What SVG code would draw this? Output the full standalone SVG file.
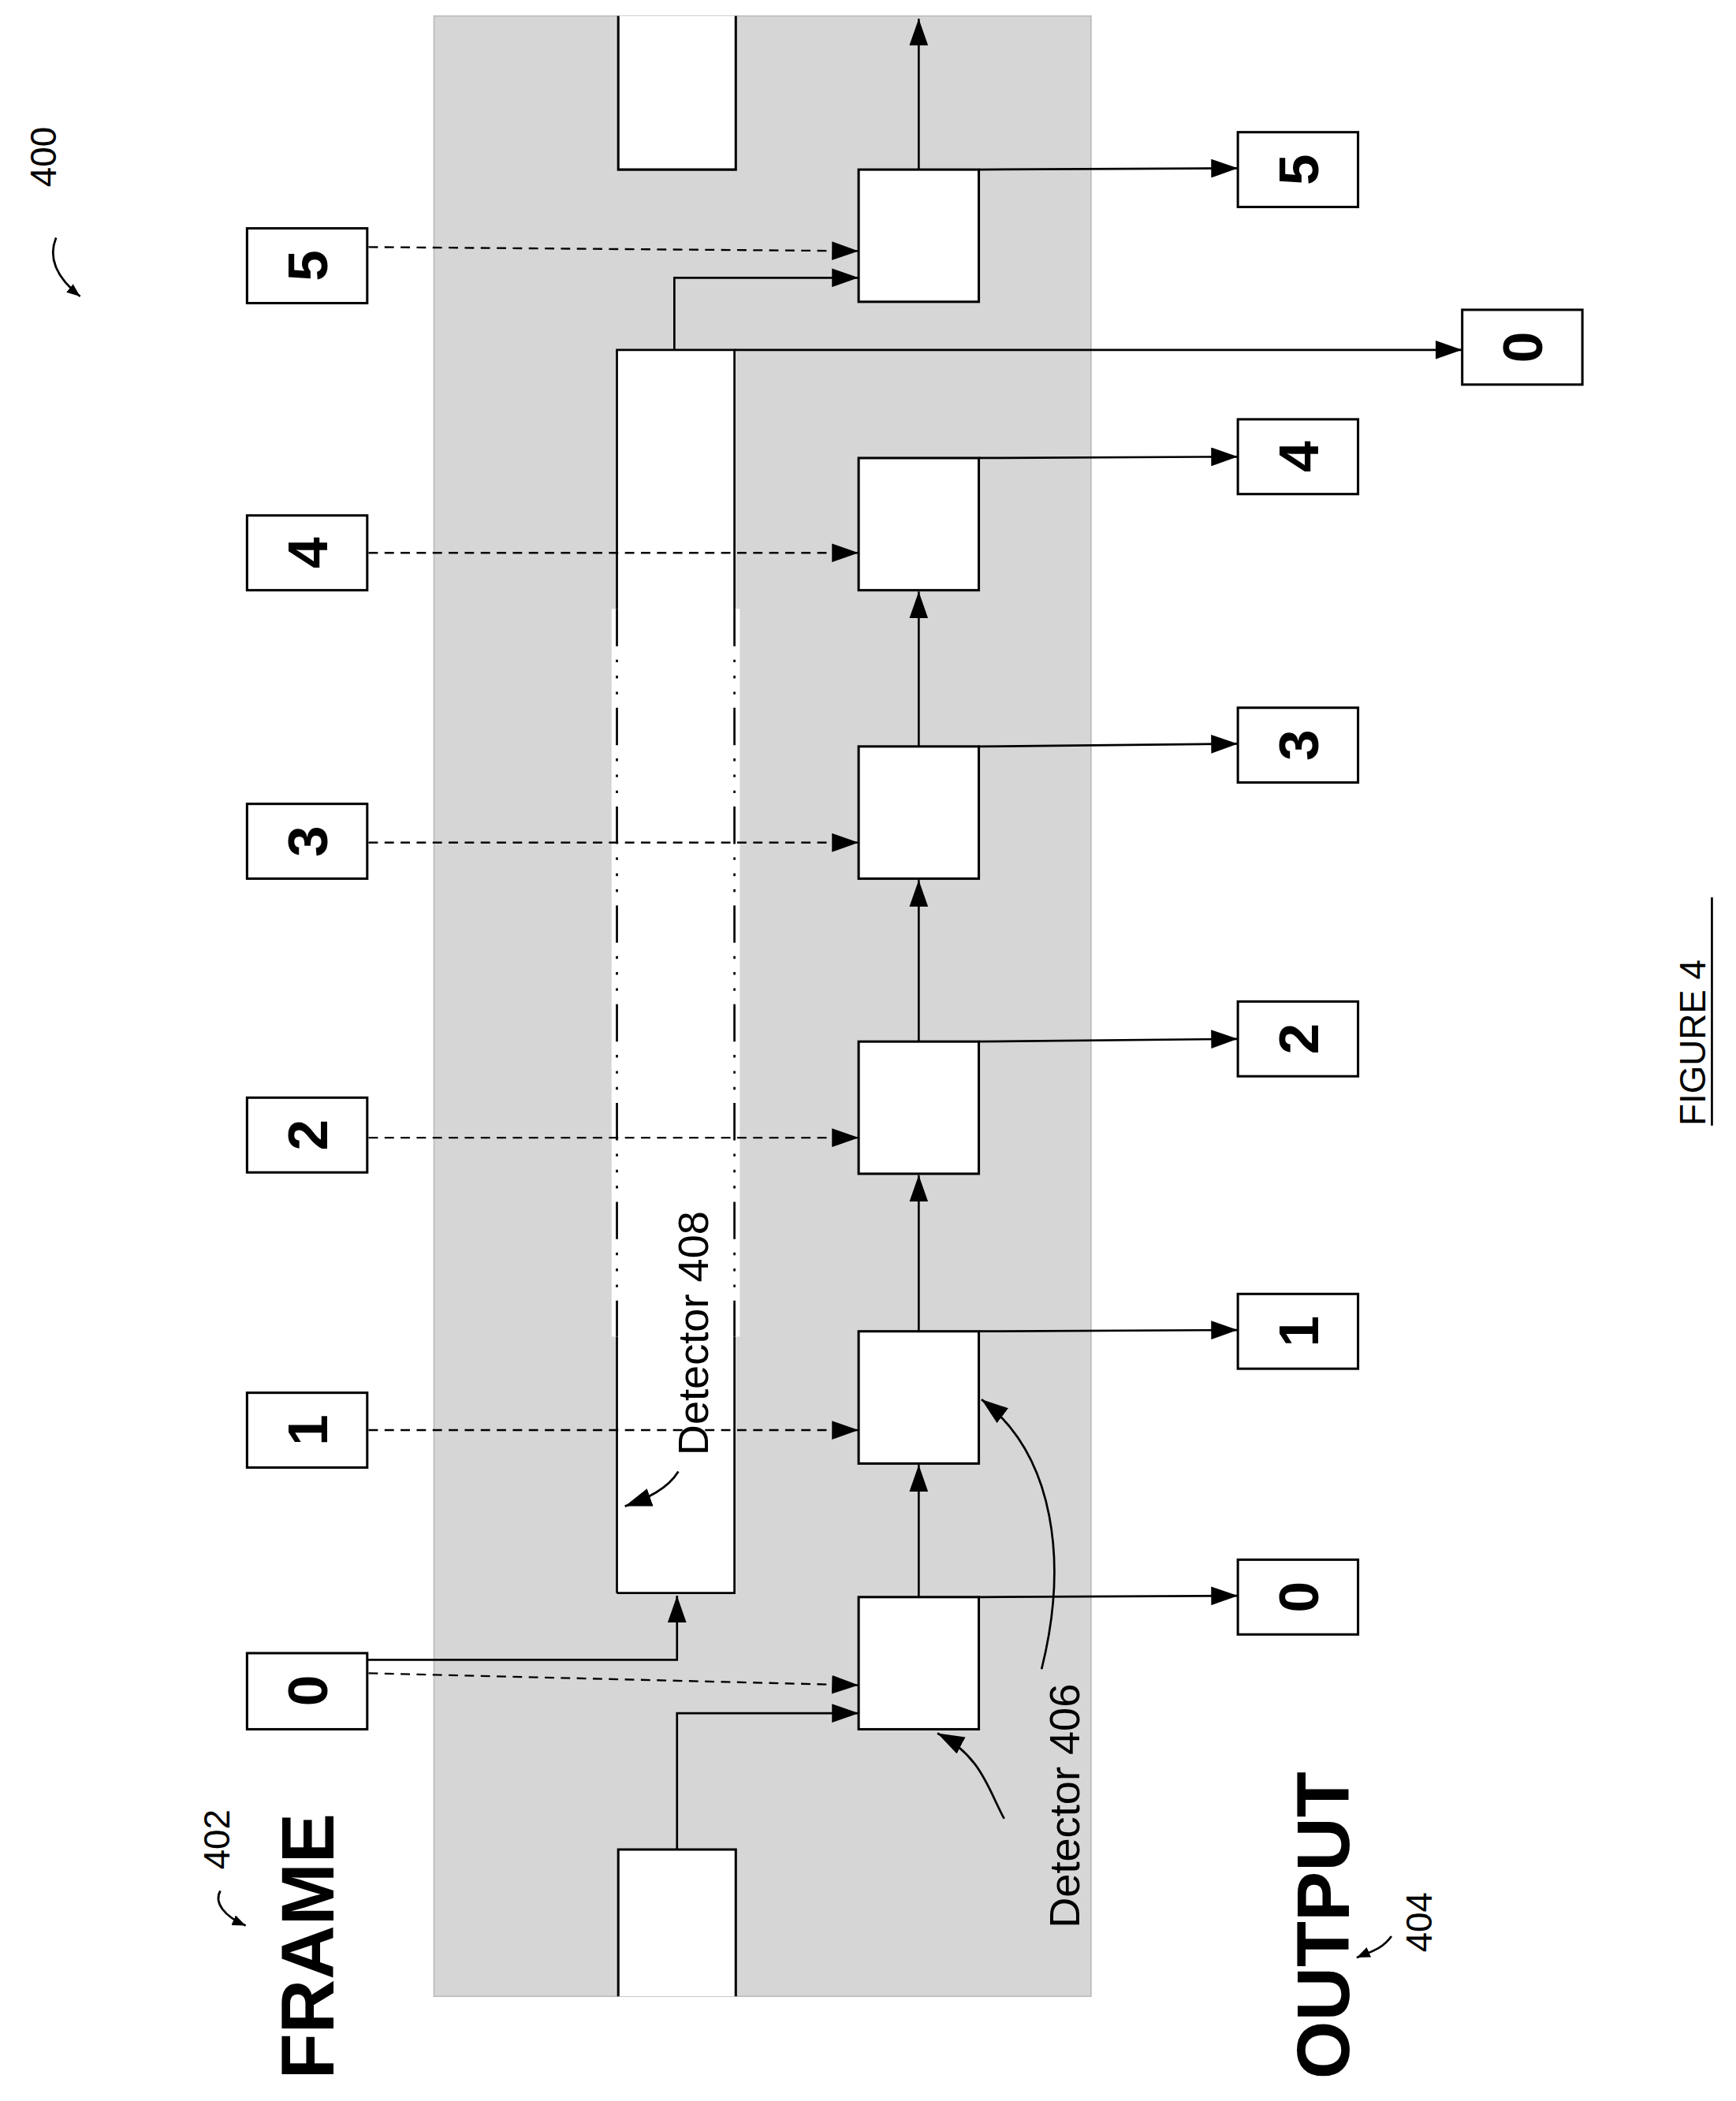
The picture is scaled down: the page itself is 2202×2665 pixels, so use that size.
<svg xmlns="http://www.w3.org/2000/svg" width="2202" height="2665" viewBox="0 0 2202 2665">
<style>
.ln{stroke:#000;stroke-width:1.6;fill:none}
.ds{stroke:#000;stroke-width:1.4;fill:none;stroke-dasharray:7 5}
.bx{fill:#fff;stroke:#000;stroke-width:1.8}
.dg{font-family:"Liberation Sans",Arial,sans-serif;font-weight:bold;font-size:42px}
.lb{font-family:"Liberation Sans",Arial,sans-serif;font-size:27px}
.dl{font-family:"Liberation Sans",Arial,sans-serif;font-size:32px}
.big{font-family:"Liberation Sans",Arial,sans-serif;font-weight:bold;font-size:56px}
</style>
<defs>
<marker id="a" markerWidth="10" markerHeight="8" refX="10" refY="4" orient="auto" markerUnits="userSpaceOnUse"><path d="M0,0 L10,4 L0,8 z" fill="#000"/></marker>
<marker id="b" markerWidth="20" markerHeight="14" refX="20" refY="7" orient="auto" markerUnits="userSpaceOnUse"><path d="M0,0 L20,7 L0,14 z" fill="#000"/></marker>
</defs>
<rect width="2202" height="2665" fill="#fff"/>
<g transform="scale(1.6938)">
<g id="background"><rect x="325" y="12" width="492" height="1483" fill="#d6d6d6" stroke="#bbb" stroke-width="1"/></g>
<g id="prev-block"><path d="M463,12 V127 H551 V12" class="bx"/></g>
<g id="next-block"><path d="M463,1495 V1385 H551 V1495" class="bx"/></g>
<g id="detector408">
<rect x="462" y="262" width="88" height="931" fill="#fff"/>
<path d="M462,1193 V262 H550 V1193 H462" class="ln"/>
<rect x="458" y="456" width="8" height="545" fill="#fff"/>
<rect x="546" y="456" width="8" height="545" fill="#fff"/>
<path d="M462,456 V1001 M550,456 V1001" class="ln" stroke-dasharray="28 10 2 10 2 10 2 10"/>
<text class="dl" transform="rotate(-90 530 1090)" x="530" y="1090">Detector 408</text>
</g>
<g id="detector406">
<rect class="bx" x="643" y="1196" width="90" height="99"/>
<rect class="bx" x="643" y="997" width="90" height="99"/>
<rect class="bx" x="643" y="780" width="90" height="99"/>
<rect class="bx" x="643" y="559" width="90" height="99"/>
<rect class="bx" x="643" y="343" width="90" height="99"/>
<rect class="bx" x="643" y="127" width="90" height="99"/>
<text class="dl" transform="rotate(-90 808 1444)" x="808" y="1444">Detector 406</text>
</g>
<g id="frames">
<rect class="bx" x="185" y="1238" width="90" height="57"/><text class="dg" transform="rotate(-90 245 1266)" x="245" y="1266" text-anchor="middle">0</text>
<rect class="bx" x="185" y="1043" width="90" height="56"/><text class="dg" transform="rotate(-90 245 1071)" x="245" y="1071" text-anchor="middle">1</text>
<rect class="bx" x="185" y="822" width="90" height="56"/><text class="dg" transform="rotate(-90 245 850)" x="245" y="850" text-anchor="middle">2</text>
<rect class="bx" x="185" y="602" width="90" height="56"/><text class="dg" transform="rotate(-90 245 630)" x="245" y="630" text-anchor="middle">3</text>
<rect class="bx" x="185" y="386" width="90" height="56"/><text class="dg" transform="rotate(-90 245 414)" x="245" y="414" text-anchor="middle">4</text>
<rect class="bx" x="185" y="171" width="90" height="56"/><text class="dg" transform="rotate(-90 245 199)" x="245" y="199" text-anchor="middle">5</text>
</g>
<g id="outputs">
<rect class="bx" x="927" y="1168" width="90" height="56"/><text class="dg" transform="rotate(-90 987 1196)" x="987" y="1196" text-anchor="middle">0</text>
<rect class="bx" x="927" y="969" width="90" height="56"/><text class="dg" transform="rotate(-90 987 997)" x="987" y="997" text-anchor="middle">1</text>
<rect class="bx" x="927" y="750" width="90" height="56"/><text class="dg" transform="rotate(-90 987 778)" x="987" y="778" text-anchor="middle">2</text>
<rect class="bx" x="927" y="530" width="90" height="56"/><text class="dg" transform="rotate(-90 987 558)" x="987" y="558" text-anchor="middle">3</text>
<rect class="bx" x="927" y="314" width="90" height="56"/><text class="dg" transform="rotate(-90 987 342)" x="987" y="342" text-anchor="middle">4</text>
<rect class="bx" x="927" y="99" width="90" height="56"/><text class="dg" transform="rotate(-90 987 127)" x="987" y="127" text-anchor="middle">5</text>
<rect class="bx" x="1095" y="232" width="90" height="56"/><text class="dg" transform="rotate(-90 1155 260)" x="1155" y="260" text-anchor="middle">0</text>
</g>
<g id="connectors">
<path class="ln" marker-end="url(#b)" d="M688,1196 V1097"/>
<path class="ln" marker-end="url(#b)" d="M688,997 V880"/>
<path class="ln" marker-end="url(#b)" d="M688,780 V659"/>
<path class="ln" marker-end="url(#b)" d="M688,559 V443"/>
<path class="ln" marker-end="url(#b)" d="M688,127 V14"/>
<path class="ln" marker-end="url(#b)" d="M507,1385 V1283 H643"/>
<path class="ln" marker-end="url(#b)" d="M275,1243 H507 V1195"/>
<path class="ds" marker-end="url(#b)" d="M276,1253 L643,1262"/>
<path class="ds" marker-end="url(#b)" d="M276,1071 H643"/>
<path class="ds" marker-end="url(#b)" d="M276,852 H643"/>
<path class="ds" marker-end="url(#b)" d="M276,631 H643"/>
<path class="ds" marker-end="url(#b)" d="M276,414 H643"/>
<path class="ds" marker-end="url(#b)" d="M276,185 L643,188"/>
<path class="ln" marker-end="url(#b)" d="M505,262 V208 H643"/>
<path class="ln" marker-end="url(#b)" d="M550,262 H1095"/>
<path class="ln" marker-end="url(#b)" d="M733,1196 L927,1195"/>
<path class="ln" marker-end="url(#b)" d="M733,997 L927,996"/>
<path class="ln" marker-end="url(#b)" d="M733,780 L927,778"/>
<path class="ln" marker-end="url(#b)" d="M733,559 L927,557"/>
<path class="ln" marker-end="url(#b)" d="M733,343 L927,342"/>
<path class="ln" marker-end="url(#b)" d="M733,127 L927,126"/>
<path class="ln" marker-end="url(#b)" d="M780,1250 C800,1170 790,1090 735,1048"/>
<path class="ln" marker-end="url(#b)" d="M752,1362 C740,1340 735,1315 702,1298"/>
<path class="ln" marker-end="url(#b)" d="M508,1102 C500,1115 485,1122 468,1128"/>
</g>
<g id="labels">
<text class="big" transform="rotate(-90 250 1557)" x="250" y="1557">FRAME</text>
<text class="big" transform="rotate(-90 1010 1557)" x="1010" y="1557">OUTPUT</text>
<text class="lb" transform="rotate(-90 42 140)" x="42" y="140">400</text>
<path class="ln" marker-end="url(#a)" d="M42,178 C35,195 45,210 60,222"/>
<text class="lb" transform="rotate(-90 172 1400)" x="172" y="1400">402</text>
<path class="ln" marker-end="url(#a)" d="M165,1416 C160,1425 168,1435 184,1442"/>
<text class="lb" transform="rotate(-90 1072 1462)" x="1072" y="1462">404</text>
<path class="ln" marker-end="url(#a)" d="M1042,1450 C1035,1460 1025,1462 1016,1466"/>
<text class="lb" font-size="30" transform="rotate(-90 1277 843)" x="1277" y="843">FIGURE 4</text>
<path class="ln" d="M1282,843 V672"/>
</g>
</g>
</svg>
